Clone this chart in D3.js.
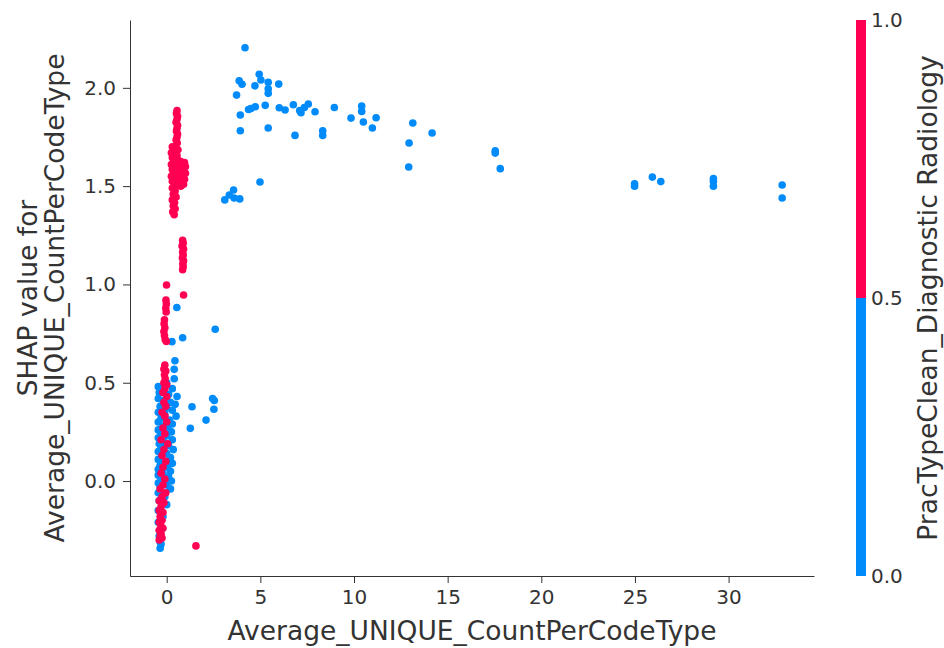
<!DOCTYPE html>
<html>
<head>
<meta charset="utf-8">
<script src="https://cdn.jsdelivr.net/npm/d3@7"></script>
<style>
  html, body { margin: 0; padding: 0; background: #fff; }
  svg { display: block; }
  text { font-family: "DejaVu Sans", sans-serif; }
</style>
</head>
<body>
<svg id="chart" width="944" height="648"></svg>
<script>
// ---- data (feature value, SHAP value) ----
// PracTypeClean_Diagnostic Radiology = 0 (blue)
const blueHigh = [
  [4.18,2.204],[3.87,2.036],[4.02,2.018],[3.73,1.963],[4.71,2.01],[4.94,2.069],[5.03,2.04],
  [5.42,2.028],[5.42,1.995],[5.42,1.972],[5.98,2.019],[3.93,1.862],[4.37,1.89],[4.5,1.895],
  [4.73,1.904],[5.26,1.911],[6.01,1.899],[6.32,1.887],[6.76,1.914],[7.1,1.885],[7.17,1.873],
  [7.35,1.9],[7.56,1.918],[7.92,1.878],[8.95,1.9],[3.93,1.782],[5.42,1.796],[6.85,1.758],
  [8.33,1.782],[8.33,1.758],[9.84,1.846],[10.41,1.907],[10.41,1.88],[10.5,1.826],[11.18,1.848],
  [10.98,1.796],[13.14,1.821],[12.94,1.719],[12.92,1.597],[14.17,1.77],[17.54,1.68],[17.54,1.668],
  [17.81,1.589],[24.98,1.50],[24.98,1.512],[25.93,1.546],[26.38,1.523],[29.19,1.538],[29.19,1.524],
  [29.19,1.50],[32.86,1.506],[32.86,1.44],[4.98,1.521],[3.57,1.48],[3.34,1.455],[3.1,1.43],
  [3.6,1.44],[3.9,1.435]
];
const blueLow = [
  [0.54,0.883],[0.28,0.709],[0.85,0.729],[2.59,0.772],[0.44,0.612],[0.40,0.568],[1.35,0.378],
  [2.45,0.42],[2.54,0.41],[2.52,0.365],[2.1,0.31],[1.26,0.268],[-0.35,-0.342],[-0.3,-0.32],
  [-0.45,0.48],[0.3,0.47],[0.4,0.52],[0.0,0.5],
  [-0.4,0.45],[0.1,0.44],[0.55,0.43],[-0.45,0.42],[-0.2,0.41],[0.2,0.40],[0.45,0.39],[-0.35,0.38],
  [0.0,0.37],[0.3,0.36],[-0.45,0.35],[-0.1,0.34],[0.5,0.33],[-0.3,0.32],[0.15,0.31],[-0.45,0.30],
  [0.3,0.29],[-0.2,0.28],[0.05,0.27],[-0.45,0.26],[0.25,0.25],[-0.3,0.24],[0.0,0.23],[-0.45,0.22],
  [0.3,0.21],[-0.15,0.20],[-0.4,0.19],[0.1,0.18],[-0.3,0.17],[0.35,0.16],[-0.45,0.15],[0.0,0.14],
  [-0.25,0.13],[0.2,0.12],[-0.45,0.11],[-0.1,0.10],[0.3,0.09],[-0.35,0.08],[0.05,0.07],[-0.45,0.06],
  [0.2,0.05],[-0.2,0.04],[-0.45,0.03],[0.1,0.02],[-0.3,0.01],[0.25,0.0],[-0.45,-0.01],[0.0,-0.02],
  [-0.35,-0.03],[0.2,-0.04],[-0.45,-0.06],[-0.1,-0.08],[-0.4,-0.1],[0.0,-0.12],[-0.45,-0.15],
  [-0.2,-0.18],[-0.45,-0.21],[-0.3,-0.25],[-0.4,-0.28],[-0.35,-0.31]
];
// PracTypeClean_Diagnostic Radiology = 1 (red)
const redPoints = [
  [1.56,-0.33],[-0.01,0.997],[0.9,0.946],
  [-0.04,0.92],[-0.02,0.90],[-0.05,0.88],[-0.03,0.86],
  [-0.12,0.82],[-0.14,0.80],[-0.1,0.78],[-0.15,0.76],[-0.12,0.74],[-0.08,0.72],[-0.02,0.71],
  [-0.1,0.59],[-0.15,0.57],[-0.05,0.56],[-0.12,0.54],[-0.08,0.52],[-0.15,0.50],[0.0,0.49],
  [-0.1,0.47],[-0.2,0.45],[0.0,0.43],[-0.15,0.40],[-0.05,0.38],[-0.25,0.35],[-0.1,0.33],[0.0,0.30],
  [-0.2,0.27],[-0.1,0.24],[-0.3,0.21],[0.05,0.19],[-0.15,0.16],[-0.25,0.13],[-0.05,0.10],[-0.2,0.07],
  [-0.3,0.04],[-0.1,0.01],[-0.2,-0.02],[-0.35,-0.04],[-0.05,-0.06],[-0.25,-0.08],[-0.4,-0.10],
  [-0.15,-0.11],[-0.3,-0.13],[-0.4,-0.15],[-0.2,-0.16],[-0.35,-0.18],[-0.25,-0.2],[-0.4,-0.21],
  [-0.3,-0.23],[-0.2,-0.24],[-0.4,-0.25],[-0.3,-0.27],[-0.35,-0.28],[-0.25,-0.29],[-0.4,-0.30],
  [0.85,1.225],[0.88,1.21],[0.82,1.195],[0.9,1.18],[0.85,1.165],[0.88,1.15],[0.84,1.135],
  [0.9,1.12],[0.86,1.105],[0.88,1.09],[0.85,1.075],
  [0.55,1.885],[0.52,1.87],[0.58,1.855],[0.55,1.84],[0.5,1.825],[0.58,1.81],[0.55,1.795],
  [0.52,1.78],[0.58,1.765],[0.55,1.75],[0.5,1.735],[0.56,1.72],
  [0.3,1.70],[0.45,1.69],[0.6,1.685],[0.25,1.67],[0.4,1.665],[0.55,1.655],[0.3,1.645],[0.5,1.64],
  [0.62,1.63],[0.35,1.62],[0.25,1.61],[0.45,1.60],[0.6,1.595],[0.3,1.585],[0.5,1.575],[0.35,1.56],
  [0.25,1.55],[0.45,1.545],[0.6,1.535],[0.3,1.525],[0.5,1.515],[0.4,1.50],[0.3,1.49],[0.45,1.475],
  [0.35,1.46],[0.5,1.445],[0.3,1.43],[0.42,1.415],[0.35,1.40],[0.45,1.385],[0.32,1.37],[0.4,1.355],
  [0.75,1.625],[0.95,1.62],[0.8,1.605],[1.0,1.60],[0.7,1.59],[0.9,1.58],[0.78,1.57],[1.0,1.565],
  [0.85,1.55],[0.72,1.54],[0.95,1.535],[0.8,1.52],[0.9,1.51],[0.75,1.50]
];
const xTicks = [0, 5, 10, 15, 20, 25, 30];
const yTicks = [0.0, 0.5, 1.0, 1.5, 2.0];
const cbTicks = [0.0, 0.5, 1.0];
const xLabel = "Average_UNIQUE_CountPerCodeType";
const yLabelLines = ["SHAP value for", "Average_UNIQUE_CountPerCodeType"];
const cbLabel = "PracTypeClean_Diagnostic Radiology";
const BLUE = "#008bfb", RED = "#ff0052", AXIS = "#333333";

// ---- layout ----
const L = 130, R = 814, T = 20, B = 576;
const LABEL_FS = "26.5px", TICK_FS = "20px";
const svg = d3.select("#chart");
const x = d3.scaleLinear().domain([-1.96, 34.56]).range([L, R]);
const y = d3.scaleLinear().domain([-0.483, 2.345]).range([B, T]);

// points
const dots = svg.append("g");
const drawSet = (arr, col) => dots.selectAll(null).data(arr).enter().append("circle")
  .attr("cx", d => x(d[0])).attr("cy", d => y(d[1])).attr("r", 3.8).attr("fill", col);
drawSet(blueHigh, BLUE);
drawSet(blueLow, BLUE);
drawSet(redPoints, RED);

// axes
const fmt = d3.format(".1f");
const gx = svg.append("g").attr("transform", `translate(0,${B})`)
  .call(d3.axisBottom(x).tickValues(xTicks).tickFormat(d3.format("d")).tickSize(7).tickPadding(7).tickSizeOuter(0));
const gy = svg.append("g").attr("transform", `translate(${L},0)`)
  .call(d3.axisLeft(y).tickValues(yTicks).tickFormat(fmt).tickSize(7).tickPadding(7).tickSizeOuter(0));
[gx, gy].forEach(g => {
  g.select(".domain").attr("stroke", AXIS);
  g.selectAll(".tick line").attr("stroke", AXIS);
  g.selectAll(".tick text").attr("fill", AXIS).style("font-size", TICK_FS).style("font-family", "DejaVu Sans");
});

// axis labels
svg.append("text").attr("x", (L + R) / 2).attr("y", 640).attr("text-anchor", "middle")
  .attr("fill", AXIS).style("font-size", LABEL_FS).text(xLabel);
yLabelLines.forEach((t, i) => {
  svg.append("text").attr("transform", `translate(${37 + i * 27},${(T + B) / 2}) rotate(-90)`)
    .attr("text-anchor", "middle").attr("fill", AXIS).style("font-size", LABEL_FS).text(t);
});

// colorbar
const cy = d3.scaleLinear().domain([0, 1]).range([B, T]);
const cbX = 856, cbW = 10;
svg.append("rect").attr("x", cbX).attr("y", cy(0.5)).attr("width", cbW).attr("height", cy(0) - cy(0.5)).attr("fill", BLUE);
svg.append("rect").attr("x", cbX).attr("y", cy(1)).attr("width", cbW).attr("height", cy(0.5) - cy(1)).attr("fill", RED);
const gcb = svg.append("g").attr("transform", `translate(${cbX + cbW},0)`)
  .call(d3.axisRight(cy).tickValues(cbTicks).tickFormat(fmt).tickSize(0).tickPadding(5));
gcb.select(".domain").remove();
gcb.selectAll(".tick text").attr("fill", AXIS).style("font-size", TICK_FS).style("font-family", "DejaVu Sans");
svg.append("text").attr("transform", `translate(937,${(T + B) / 2}) rotate(-90)`)
  .attr("text-anchor", "middle").attr("fill", AXIS).style("font-size", LABEL_FS).text(cbLabel);
</script>
</body>
</html>
